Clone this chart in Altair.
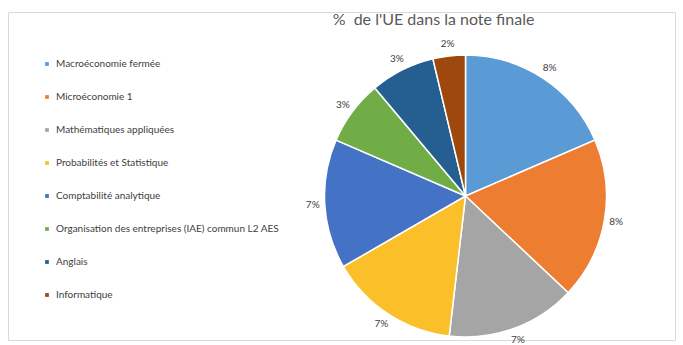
import altair as alt
import pandas as pd

categories = [
    "Macroéconomie fermée",
    "Microéconomie 1",
    "Mathématiques appliquées",
    "Probabilités et Statistique",
    "Comptabilité analytique",
    "Organisation des entreprises (IAE) commun L2 AES",
    "Anglais",
    "Informatique",
]
values = [8.33, 8.33, 6.67, 6.67, 6.67, 3.33, 3.33, 1.67]
colors = ["#5B9BD5", "#ED7D31", "#A5A5A5", "#FBBF2A", "#4472C4", "#70AD47", "#255E91", "#9E480E"]

df = pd.DataFrame({"UE": categories, "value": values, "idx": list(range(len(categories)))})

FONT = "Lato"
cx, cy = 457.5, 184

base = alt.Chart(df).encode(
    theta=alt.Theta("value:Q", stack=True),
    order=alt.Order("idx:Q"),
)

pie = base.mark_arc(stroke="white", strokeWidth=1.5, outerRadius=141).encode(
    x=alt.value(cx),
    y=alt.value(cy),
    color=alt.Color(
        "UE:N",
        scale=alt.Scale(domain=categories, range=colors),
        sort=categories,
        legend=alt.Legend(
            title=None,
            orient="none",
            legendX=34,
            legendY=47,
            symbolType="square",
            symbolSize=14,
            symbolStrokeWidth=0,
            labelFont=FONT,
            labelFontSize=10,
            labelColor="#404040",
            rowPadding=23,
            labelLimit=400,
        ),
    ),
)

labels = base.mark_text(radius=153, font=FONT, fontSize=10, color="#404040").encode(
    x=alt.value(cx),
    y=alt.value(cy),
).transform_calculate(lbl="format(datum.value, '.0f') + '%'").encode(text="lbl:N")

chart = (
    alt.layer(pie, labels)
    .properties(
        width=667,
        height=328,
        padding={"left": 8, "top": 12, "right": 8, "bottom": 5},
        autosize=alt.AutoSizeParams(type="none"),
        title=alt.TitleParams(
            "%\u00a0\u00a0de l'UE dans la note finale",
            font=FONT,
            fontSize=16,
            fontWeight="normal",
            color="#595959",
            anchor="middle",
            dx=92,
            offset=-16,
        ),
        background="white",
    )
    .configure_view(stroke="#D9D9D9", strokeWidth=1)
)

chart.save("out.html", embed_options={"renderer": "svg", "actions": False})
